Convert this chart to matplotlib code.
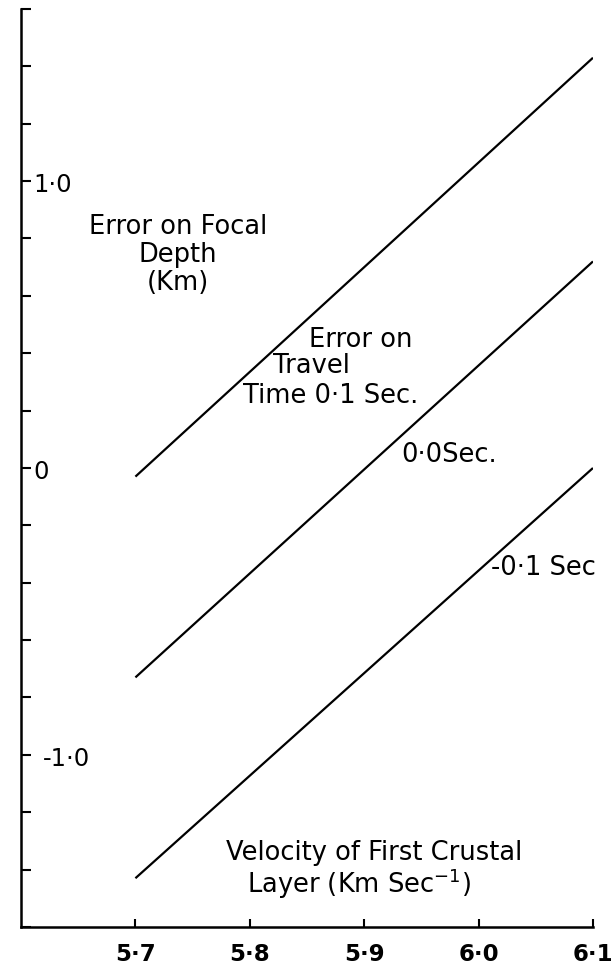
import numpy as np
import matplotlib
matplotlib.use("Agg")
import matplotlib.pyplot as plt

# Velocity of first crustal layer (km/s)
velocity = [5.7, 6.1]

# Error on focal depth (km) for each travel-time error
err_plus = [-0.03, 1.43]   # 0.1 sec
err_zero = [-0.73, 0.72]   # 0.0 sec
err_minus = [-1.43, 0.0]   # -0.1 sec

x_ticks = [5.7, 5.8, 5.9, 6.0, 6.1]
x_tick_labels = ["5\u00b77", "5\u00b78", "5\u00b79", "6\u00b70", "6\u00b71"]
y_ticks = np.round(np.arange(-1.6, 1.61, 0.2), 1)
y_label_vals = [1.0, 0.0, -1.0]
y_label_text = ["1\u00b70", "0", "-1\u00b70"]

plt.rcParams['font.family'] = ['DejaVu Sans']
FS = 18.5

fig = plt.figure(figsize=(6.11, 9.70), dpi=100)
ax = fig.add_axes([0.0344, 0.0433, 0.9361, 0.9464])

for ys in (err_plus, err_zero, err_minus):
    ax.plot(velocity, ys, color='black', lw=1.6, solid_capstyle='butt')

ax.set_xlim(5.6, 6.1)
ax.set_ylim(-1.6, 1.6)

for side in ('top', 'right'):
    ax.spines[side].set_visible(False)
for side in ('left', 'bottom'):
    ax.spines[side].set_linewidth(1.8)

ax.set_xticks(x_ticks)
ax.set_xticklabels(x_tick_labels, fontsize=16.5, fontweight='bold')
ax.tick_params(axis='x', direction='in', length=6, width=1.5, pad=11)

ax.set_yticks(y_ticks)
ax.set_yticklabels([])
ax.tick_params(axis='y', direction='in', length=7.5, width=1.5)
ax.set_yticks([0.0], minor=True)
ax.tick_params(axis='y', which='minor', direction='out', length=8, width=1.5)

# y tick labels sit inside the axis
label_x = [5.6105, 5.6105, 5.619]
for xv, yv, txt in zip(label_x, y_label_vals, y_label_text):
    ax.text(xv, yv - 0.01, txt, fontsize=17.5, ha='left', va='center')

ax.text(5.737, 0.745, "Error on Focal\nDepth\n(Km)", fontsize=FS,
        ha='center', va='center', multialignment='center', linespacing=1.1)

ax.text(5.852, 0.45, "Error on", fontsize=FS, ha='left', va='center')
ax.text(5.820, 0.36, "Travel", fontsize=FS, ha='left', va='center')
ax.text(5.794, 0.255, "Time 0\u00b71 Sec.", fontsize=FS, ha='left', va='center')

ax.text(5.932, 0.05, "0\u00b70Sec.", fontsize=FS, ha='left', va='center')
ax.text(6.011, -0.345, "-0\u00b71 Sec", fontsize=FS, ha='left', va='center')

ax.text(5.909, -1.34, "Velocity of First Crustal", fontsize=FS,
        ha='center', va='center')
ax.text(5.895, -1.445, "Layer (Km Sec$^{-1}$)", fontsize=FS,
        ha='center', va='center')

fig.savefig("out.png", dpi=100)
